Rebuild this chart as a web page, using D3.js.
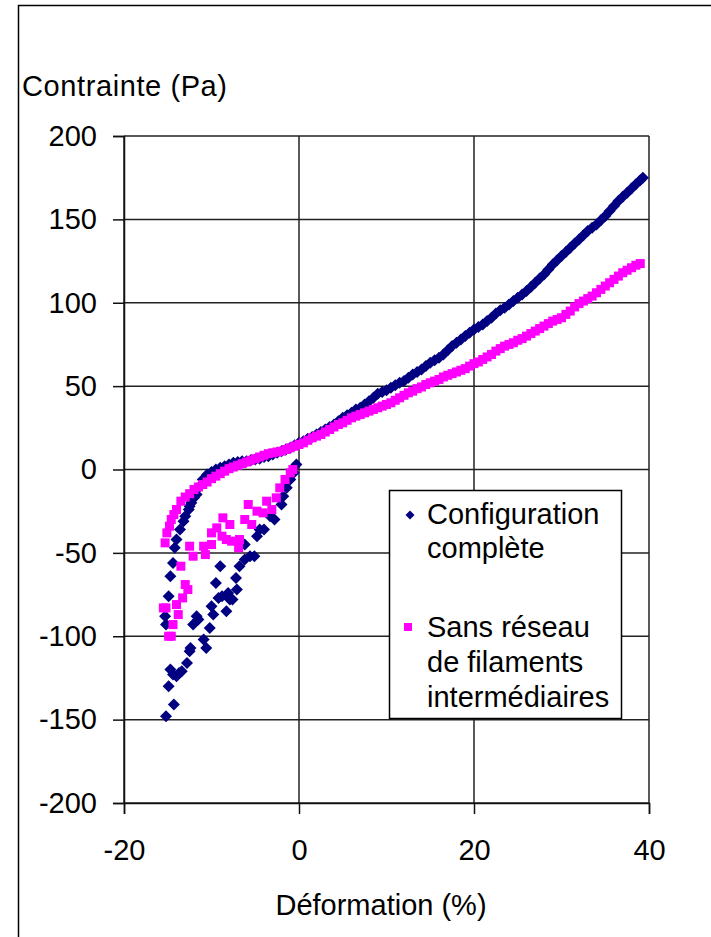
<!DOCTYPE html>
<html><head><meta charset="utf-8">
<script src="https://cdn.jsdelivr.net/npm/d3@7"></script>
<style>
html,body{margin:0;padding:0;background:#fff;}
svg text{font-family:"Liberation Sans",Arial,sans-serif;fill:#000;}
</style></head>
<body>
<svg id="chart" width="711" height="937"></svg>
<script>
// ---- Data ----
const xTicks = [-20, 0, 20, 40];
const yTicks = [-200, -150, -100, -50, 0, 50, 100, 150, 200];
const seriesNames = ["Configuration", "complète", "Sans réseau", "de filaments", "intermédiaires"];

// Configuration complète (navy diamonds)
const configX = [
  // traction
  0.0,0.5,1.0,1.5,2.0,2.5,3.0,3.5,4.0,4.5,5.0,5.5,6.0,6.5,7.0,7.5,8.0,8.5,9.0,9.5,
  10.0,10.5,11.0,11.5,12.0,12.5,13.0,13.5,14.0,14.5,15.0,15.5,16.0,16.5,17.0,17.5,18.0,18.5,19.0,19.5,
  20.0,20.5,21.0,21.5,22.0,22.5,23.0,23.5,24.0,24.5,25.0,25.5,26.0,26.5,27.0,27.5,28.0,28.5,29.0,29.5,
  30.0,30.5,31.0,31.5,32.0,32.5,33.0,33.5,34.0,34.5,35.0,35.5,36.0,36.5,37.0,37.5,38.0,38.5,39.0,39.3,
  // compression, upper branch
  -0.5,-1,-1.5,-2,-2.5,-3,-3.5,-4,-4.5,-5,-5.5,-6,-6.5,-7,-7.5,-8,-8.5,-9,-9.5,-10,
  -10.5,-11,-11.5,-11.7,-12,-12.3,-12.5,-12.6,-13,-13.2,-13.6,-14,-14.2,-14.4,-14.7,-14.9,-15.2,-15.3,
  // lowest points
  -14.7,-14.4,-14.0,-13.7,-13.4,-14.9,-14.3,-15.2,
  // return branch
  -12.8,-12.5,-12.4,-10.9,-10.6,-10.2,-12.1,-11.7,-11.5,-10.0,-9.8,-9.5,-9.2,-8.8,-8.3,-8.1,-7.9,-7.6,-7.1,-7.2,
  -9.0,-6.8,-6.2,-5.6,-5.1,-6.2,-4.8,-4.5,-4.0,-3.3,-2.8,-2.0,-1.8,-1.4,-1.0,-0.6,-0.3
];
const configY = [
  16,17,18.5,19.5,21,22.5,24,25.5,27,29,31,32.5,34,36,37,39,41,43,45.5,46.5,
  47.5,49,50.5,52,53,55,57,58.5,60,62,64,65.5,67,69,71.5,74,76,78,80,82,
  84,85.5,87,89,91,93.5,95.5,97,99,101,103,105,107,109.5,112,114.5,117,120,123,125.5,
  128,130.5,133,135.5,138,140.5,143,145,147,149.5,152,155,158,161,163.5,166,168.5,171,173.5,175,
  14.5,13,12,11,10,9,8,7.5,6.5,6,5.5,5,5,4.5,4,3,2,1,0,-1.5,
  -3,-6,-11,-15,-17,-20,-22,-24,-28,-31,-36,-42,-47,-56,-64,-76,-93,-88,
  -120,-123,-124,-122,-121,-130,-141,-148,
  -116,-109,-107,-102,-107,-95,-93,-88,-90,-82,-87,-68,-77,-76,-85,-74,-78,-78,-72,-65,
  -58,-58,-54,-52,-52,-45,-40,-36,-36,-28,-30,-21,-16,-11,-6,-2,3
];

// Sans réseau de filaments intermédiaires (magenta squares)
const sansX = [
  // traction
  0.0,0.5,1.0,1.5,2.0,2.5,3.0,3.5,4.0,4.5,5.0,5.5,6.0,6.5,7.0,7.5,8.0,8.5,9.0,9.5,
  10.0,10.5,11.0,11.5,12.0,12.5,13.0,13.5,14.0,14.5,15.0,15.5,16.0,16.5,17.0,17.5,18.0,18.5,19.0,19.5,
  20.0,20.5,21.0,21.5,22.0,22.5,23.0,23.5,24.0,24.5,25.0,25.5,26.0,26.5,27.0,27.5,28.0,28.5,29.0,29.5,
  30.0,30.5,31.0,31.5,32.0,32.5,33.0,33.5,34.0,34.5,35.0,35.5,36.0,36.5,37.0,37.5,38.0,38.5,39.0,
  // compression, upper branch
  -0.5,-1,-1.5,-2,-2.5,-3,-3.5,-4,-4.5,-5,-5.5,-6,-6.5,-7,-7.5,-8,-8.5,-9,-9.5,-10,
  -10.5,-11,-11.5,-12,-12.5,-13,-13.5,-14,-14.3,-14.6,-14.8,-15.1,-15.3,
  // lower loop
  -12.5,-12.1,-10.9,-10.7,-10.0,-10.0,-9.4,-8.7,-8.8,-7.9,-8.3,-7.7,-6.9,-6.8,-6.2,-5.8,-5.4,-4.8,-4.1,-3.7,
  -3.1,-2.6,-2.2,-1.6,-1.0,-0.7,
  // left lower points
  -13.5,-13.0,-12.7,-13.3,-14.0,-15.5,-15.2,-13.8,-14.4,-14.6,-14.9
];
const sansY = [
  15,16,17.5,19,20,21,22.5,24,25.5,27,28,29.5,31,32,33,34,35,36,37,38,
  39,40,41.5,43,44.5,46,47,48.5,49.5,51,52,53,54,55.5,56.5,57.5,58.5,59.5,60.5,62,
  63.5,64.5,66,67.5,69,71,72.5,74,75,76,77.5,78.5,80,81.5,83,84.5,86,87.5,89,90,
  91,93,95,97.5,99.5,101,102.5,104,106,108,110,112,114,116,118,119.5,121,122.5,123.5,
  14,13,12,11,10.5,10,9.5,8.5,7.5,6.5,5.5,4.5,3.5,2.5,1.5,0.5,-1,-2.5,-4,-5.5,
  -7.5,-9,-10.5,-12,-14.5,-16.5,-19,-24,-27,-30,-34,-38,-44,
  -46,-52,-46,-51,-45,-38,-35,-29,-40,-33,-42,-43,-47,-42,-30,-21,-33,-25,-26,-19,
  -24,-17,-11,-6,-2,0,
  -58,-69,-72,-77,-81,-83,-83,-87,-93,-100,-100
];

// ---- Chart ----
const svg = d3.select("#chart");
const x = d3.scaleLinear().domain([-20, 40]).range([124, 649]);
const y = d3.scaleLinear().domain([-200, 200]).range([803, 136]);
const FONT = 29;

// outer frame (left + top)
svg.append("path").attr("d", "M18.5,937 L18.5,5.5 L711,5.5")
  .attr("fill", "none").attr("stroke", "#000").attr("stroke-width", 1.5);

// gridlines
const grid = svg.append("g").attr("stroke", "#222").attr("stroke-width", 1.5);
yTicks.forEach(v => grid.append("line").attr("x1", x(-20)).attr("x2", x(40)).attr("y1", y(v)).attr("y2", y(v)));
xTicks.forEach(v => grid.append("line").attr("x1", x(v)).attr("x2", x(v)).attr("y1", y(-200)).attr("y2", y(200)));

// axes
const ax = svg.append("g").attr("transform", `translate(0,${y(-200)})`)
  .call(d3.axisBottom(x).tickValues(xTicks).tickSize(11).tickPadding(25).tickFormat(d3.format("d")));
const ay = svg.append("g").attr("transform", `translate(${x(-20)},0)`)
  .call(d3.axisLeft(y).tickValues(yTicks).tickSize(11).tickPadding(16).tickFormat(d3.format("d")));
[ax, ay].forEach(a => {
  a.select(".domain").attr("stroke", "#111").attr("stroke-width", 1.5);
  a.selectAll(".tick line").attr("stroke", "#111").attr("stroke-width", 1.5);
  a.selectAll("text").attr("font-size", FONT).attr("font-family", "Liberation Sans, Arial, sans-serif").attr("fill", "#000");
});
ax.selectAll("text").text(d => String(d));
ay.selectAll("text").text(d => String(d));

// axis titles
svg.append("text").attr("x", 22).attr("y", 96).attr("font-size", FONT).attr("textLength", 205).text("Contrainte (Pa)");
svg.append("text").attr("x", 381).attr("y", 915).attr("text-anchor", "middle").attr("font-size", FONT).text("Déformation (%)");

// markers
const diamond = "M0,-6L6,0L0,6L-6,0Z";
svg.append("g").selectAll("path").data(configX.map((d, i) => [d, configY[i]])).join("path")
  .attr("d", diamond).attr("transform", d => `translate(${x(d[0])},${y(d[1])})`).attr("fill", "#000080");
svg.append("g").selectAll("rect").data(sansX.map((d, i) => [d, sansY[i]])).join("rect")
  .attr("x", d => x(d[0]) - 4.5).attr("y", d => y(d[1]) - 4.5).attr("width", 9).attr("height", 9).attr("fill", "#FF00FF");

// legend
const lg = svg.append("g");
lg.append("rect").attr("x", 389.5).attr("y", 490.5).attr("width", 232).attr("height", 228)
  .attr("fill", "#fff").attr("stroke", "#000").attr("stroke-width", 1.5);
lg.append("path").attr("d", "M0,-4.5L4.5,0L0,4.5L-4.5,0Z").attr("transform", "translate(410,515)").attr("fill", "#000080");
lg.append("rect").attr("x", 404).attr("y", 623).attr("width", 8).attr("height", 8).attr("fill", "#FF00FF");
const ly = [524, 558, 637, 672, 707];
seriesNames.forEach((t, i) => lg.append("text").attr("x", 427).attr("y", ly[i]).attr("font-size", FONT).text(t));
</script>
</body></html>
